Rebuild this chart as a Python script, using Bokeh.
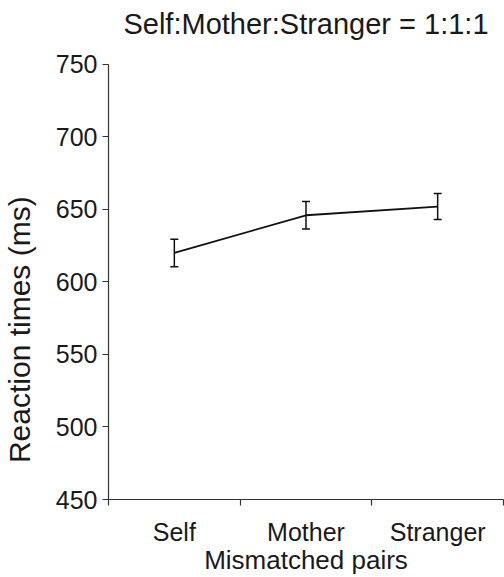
import math
from bokeh.plotting import figure
from bokeh.layouts import row
from bokeh.models import (Range1d, FixedTicker, ColumnDataSource, Whisker, TeeHead,
                          Label, Title)
from bokeh.embed import file_html
from bokeh.resources import INLINE

categories = ["Self", "Mother", "Stranger"]
rt_mean = [620, 646, 652]
rt_err = [9.5, 9.5, 9.0]
y_ticks = [450, 500, 550, 600, 650, 700, 750]
y_min, y_max = 450, 750
title_text = "Self:Mother:Stranger = 1:1:1"
x_label = "Mismatched pairs"
y_label = "Reaction times (ms)"

FONT = "Liberation Sans"
TXT = "#1a1a1a"
AX = "#333333"

W, H = 504, 577
LAB_W = 44            # strip holding the y-axis title
AXIS_TOP = 64         # pixel row of 750
AXIS_BOTTOM = 500     # pixel row of 450
FRAME_TOP = 39        # plot frame starts higher so the title sits higher

px_per_unit = (AXIS_BOTTOM - AXIS_TOP) / (y_max - y_min)
y_end = y_max + (AXIS_TOP - FRAME_TOP) / px_per_unit

xs = [i + 0.5 for i in range(len(categories))]
upper = [m + e for m, e in zip(rt_mean, rt_err)]
lower = [m - e for m, e in zip(rt_mean, rt_err)]
src = ColumnDataSource(dict(x=xs, y=rt_mean, upper=upper, lower=lower))

# ---- strip with the rotated y-axis title ----
lab = figure(width=LAB_W, height=H, output_backend="svg", toolbar_location=None,
             x_range=Range1d(0, LAB_W), y_range=Range1d(H, 0),
             x_axis_type=None, y_axis_type=None, min_border=0)
lab.outline_line_color = None
lab.grid.visible = False
lab.add_layout(Label(x=19, y=364, angle=math.pi / 2, text=y_label,
                     text_align="center", text_baseline="middle",
                     text_font=FONT, text_font_size="30px", text_color=TXT))

# ---- main chart ----
p = figure(width=W - LAB_W, height=H, output_backend="svg", toolbar_location=None,
           x_range=Range1d(0, len(categories)), y_range=Range1d(y_min, y_end),
           min_border_left=108 - LAB_W, min_border_right=1,
           min_border_top=FRAME_TOP, min_border_bottom=H - AXIS_BOTTOM,
           title=None)
p.outline_line_color = None
p.grid.visible = False

p.add_layout(Title(text=title_text, align="center", text_font=FONT,
                   text_font_size="29px", text_font_style="normal",
                   text_color=TXT, standoff=0), "above")

# x axis: labels at category centres, ticks at boundaries
p.xaxis.ticker = FixedTicker(ticks=xs, minor_ticks=list(range(len(categories) + 1)))
p.xaxis.major_label_overrides = {x: c for x, c in zip(xs, categories)}
p.xaxis.major_tick_line_color = None
p.xaxis.major_tick_out = 0
p.xaxis.major_tick_in = 0
p.xaxis.minor_tick_out = 6
p.xaxis.minor_tick_in = 0
p.xaxis.minor_tick_line_color = AX
p.xaxis.minor_tick_line_width = 1.2
p.xaxis.major_label_standoff = 12
p.xaxis.axis_label = x_label
p.xaxis.axis_label_standoff = -4
p.xaxis.axis_label_text_font_size = "26px"

p.yaxis.ticker = FixedTicker(ticks=y_ticks, minor_ticks=[])
p.yaxis.bounds = (y_min, y_max)
p.yaxis.major_tick_out = 6
p.yaxis.major_tick_in = 0
p.yaxis.major_tick_line_color = AX
p.yaxis.major_tick_line_width = 1.2
p.yaxis.major_label_standoff = 5

for ax in (p.xaxis, p.yaxis):
    ax.axis_line_color = AX
    ax.axis_line_width = 1.2
    ax.major_label_text_font = FONT
    ax.major_label_text_font_size = "25px"
    ax.major_label_text_color = TXT
    ax.axis_label_text_font = FONT
    ax.axis_label_text_font_style = "normal"
    ax.axis_label_text_color = TXT

p.line("x", "y", source=src, line_color="#111111", line_width=1.8)
w = Whisker(base="x", upper="upper", lower="lower", source=src,
            line_color="#111111", line_width=1.5,
            upper_head=TeeHead(size=8, line_color="#111111", line_width=1.5),
            lower_head=TeeHead(size=8, line_color="#111111", line_width=1.5))
p.add_layout(w)

layout = row(lab, p, spacing=0)
open("out.html", "w").write(file_html(layout, INLINE))
